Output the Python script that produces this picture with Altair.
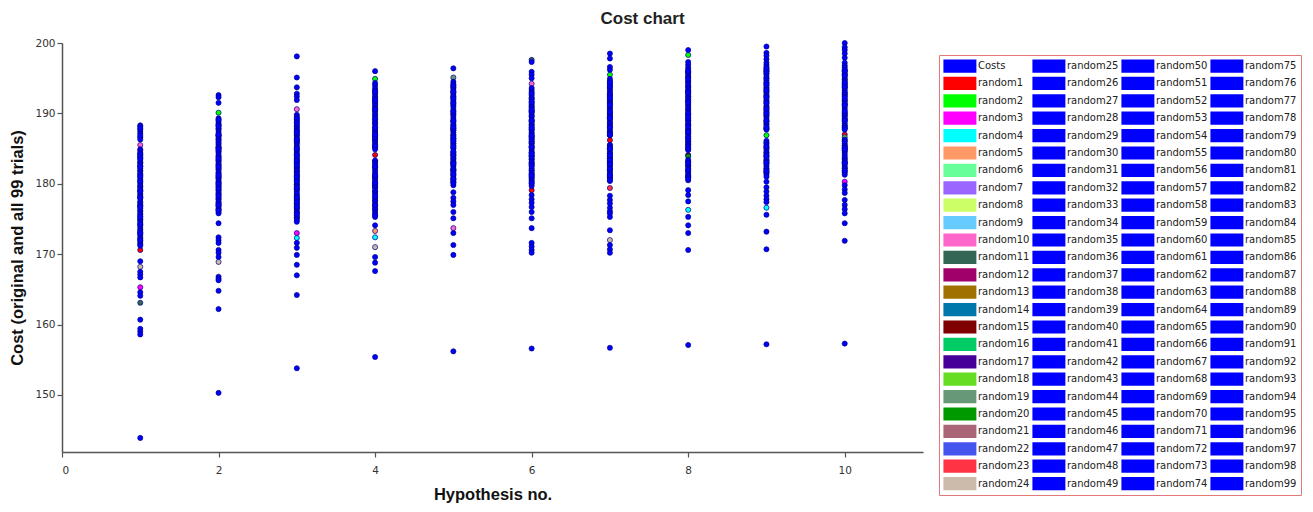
import altair as alt
import pandas as pd

hypotheses = [1, 2, 3, 4, 5, 6, 7, 8, 9, 10]

# original cost for each hypothesis (series "Costs")
original_costs = [143.9, 150.3, 153.8, 155.4, 156.2, 156.6, 156.7, 157.1, 157.2, 157.3]

# 99 random trials per hypothesis, in order random1 .. random99
trials_h1 = [170.6, 181.2, 165.3, 178.4, 183.0, 176.1, 180.3, 174.2, 182.5, 185.5, 163.1, 177.3,
             179.6, 173.1, 184.2, 175.4, 181.9, 172.4, 179.0, 176.8, 183.7, 174.8, 178.1, 168.2,
             169.0, 167.5, 167.1, 166.7, 164.6, 164.1, 160.7, 159.4, 159.0, 158.6,
             188.3, 188.1, 187.7, 187.4, 187.1, 186.6, 186.3, 184.9, 184.7, 184.4, 184.0, 183.8,
             183.4, 183.1, 182.9, 182.6, 182.2, 181.8, 181.5, 181.3, 180.9, 180.6, 180.1, 179.8,
             179.5, 179.2, 178.9, 178.6, 178.2, 177.9, 177.5, 177.1, 176.9, 176.5, 176.2, 175.8,
             175.6, 175.1, 174.9, 174.5, 174.1, 173.8, 173.5, 173.3, 172.9, 172.7, 172.2, 171.9,
             171.6, 171.4, 187.9, 186.8, 184.2, 183.6, 182.4, 181.0, 180.4, 179.0, 178.0, 176.7,
             175.3, 174.3, 173.0, 172.0, 171.2]
trials_h2 = [184.6, 190.1, 180.2, 177.9, 186.3, 182.7, 179.1, 176.4, 187.8, 181.5, 185.2, 178.6,
             183.9, 176.9, 188.4, 180.8, 182.1, 177.3, 185.8, 179.7, 183.3, 181.0, 186.9, 168.9,
             192.6, 192.3, 191.5, 174.4, 172.4, 172.0, 171.6, 170.6, 170.2, 169.6, 166.8, 166.5,
             166.3, 164.8, 162.2,
             189.3, 189.0, 188.7, 188.4, 188.1, 187.8, 187.5, 187.2, 186.9, 186.6, 186.3, 186.0,
             185.6, 185.3, 185.0, 184.7, 184.4, 184.1, 183.8, 183.5, 183.2, 182.9, 182.6, 182.3,
             182.0, 181.7, 181.4, 181.1, 180.8, 180.5, 180.2, 179.9, 179.6, 179.3, 179.0, 178.7,
             178.4, 178.1, 177.8, 177.5, 177.2, 176.9, 176.6, 176.3, 176.0, 175.8, 189.1, 188.2,
             186.8, 185.1, 183.6, 182.4, 181.2, 179.4, 178.3, 177.0, 176.2, 184.9, 187.0, 180.0]
trials_h3 = [183.4, 186.8, 173.0, 172.3, 180.5, 177.2, 188.1, 175.9, 184.7, 190.6, 179.3, 182.2,
             176.5, 185.9, 181.1, 178.4, 187.3, 175.2, 183.0, 179.9, 186.2, 181.8, 177.7, 184.1,
             198.1, 195.1, 193.7, 192.8, 192.4, 191.9, 171.6, 170.9, 169.9, 168.5, 167.0, 164.2,
             189.8, 189.5, 189.1, 188.9, 188.5, 188.2, 187.8, 187.6, 187.1, 186.9, 186.5, 186.1,
             185.8, 185.5, 185.2, 184.9, 184.5, 184.2, 183.8, 183.6, 183.2, 182.9, 182.5, 182.3,
             181.9, 181.6, 181.2, 180.9, 180.6, 180.2, 179.9, 179.6, 179.2, 178.9, 178.6, 178.2,
             177.9, 177.6, 177.2, 176.9, 176.6, 176.2, 175.9, 175.5, 175.2, 174.9, 174.6, 189.3,
             188.7, 187.4, 186.3, 185.0, 184.0, 182.7, 181.4, 180.4, 179.4, 178.0, 176.7, 175.7,
             183.3, 181.0, 177.4]
trials_h4 = [184.1, 194.9, 186.2, 172.4, 173.3, 189.7, 180.2, 191.3, 177.6, 187.5, 182.4, 178.9,
             190.5, 176.3, 185.3, 188.6, 181.1, 179.5, 183.2, 192.2, 177.0, 186.9, 180.8, 171.0,
             196.0, 194.3, 194.0, 174.1, 169.6, 168.8, 167.6,
             193.6, 193.3, 193.0, 192.7, 192.4, 192.0, 191.7, 191.5, 191.1, 190.8, 190.4, 190.1,
             189.8, 189.4, 189.1, 188.8, 188.5, 188.1, 187.8, 187.5, 187.2, 186.8, 186.5, 186.2,
             185.9, 185.6, 185.2, 184.9, 183.3, 183.0, 182.7, 182.3, 182.0, 181.7, 181.4, 181.0,
             180.7, 180.4, 180.0, 179.7, 179.4, 179.0, 178.7, 178.4, 178.0, 177.7, 177.4, 177.0,
             176.7, 176.4, 176.0, 175.7, 175.3, 193.1, 191.9, 190.6, 189.2, 188.0, 186.6, 185.4,
             182.5, 181.2, 179.8, 178.2, 176.9, 175.5, 187.0, 180.1]
trials_h5 = [186.4, 191.2, 182.0, 188.8, 184.5, 180.6, 193.0, 185.7, 181.3, 173.7, 189.9, 183.1,
             187.6, 180.2, 192.3, 185.0, 182.7, 190.7, 195.1, 186.9, 181.8, 188.2, 184.0, 183.6,
             196.4, 178.8, 178.0, 177.5, 177.0, 176.0, 175.1, 173.0, 171.3, 169.9,
             194.5, 194.2, 193.9, 193.6, 193.3, 192.9, 192.6, 192.4, 192.0, 191.7, 191.4, 191.0,
             193.7, 190.4, 190.1, 189.8, 189.5, 189.2, 188.9, 188.5, 188.3, 187.9, 187.6, 187.3,
             187.0, 186.7, 186.3, 186.0, 185.7, 185.4, 185.1, 182.0, 184.4, 184.1, 183.8, 183.5,
             183.2, 182.8, 182.5, 182.2, 181.9, 181.6, 181.2, 180.9, 180.6, 180.3, 179.8, 194.0,
             193.1, 191.5, 190.3, 189.0, 187.8, 186.5, 185.3, 184.2, 183.0, 181.4, 180.1, 192.1,
             188.0, 186.1, 184.6, 182.9, 180.7]
trials_h6 = [179.1, 186.0, 190.3, 183.5, 188.4, 181.9, 192.1, 185.2, 180.5, 194.2, 197.6, 187.1,
             182.8, 189.6, 184.4, 191.2, 180.9, 186.7, 183.0, 188.9, 181.4, 185.8, 190.9, 184.0,
             197.3, 195.9, 195.5, 195.0, 178.4, 177.8, 177.3, 176.7, 176.0, 175.1, 173.7, 171.6,
             171.1, 170.6, 170.2,
             193.6, 193.3, 193.0, 192.6, 192.3, 192.0, 191.7, 191.4, 191.0, 190.7, 190.4, 190.1,
             189.8, 189.5, 189.1, 188.8, 188.5, 188.2, 187.9, 187.6, 187.3, 186.9, 186.6, 186.3,
             186.0, 185.7, 185.4, 185.1, 184.8, 184.5, 184.1, 183.8, 183.5, 183.2, 182.9, 182.6,
             182.2, 181.9, 181.6, 181.3, 181.0, 180.7, 180.3, 180.0, 179.7, 192.8, 191.6, 190.2,
             189.0, 187.7, 186.4, 185.2, 183.9, 182.5, 181.2, 180.1, 188.0, 184.3, 190.5, 186.8]
trials_h7 = [186.2, 195.5, 190.8, 183.6, 188.1, 192.7, 181.9, 185.0, 189.4, 193.5, 182.7, 187.3,
             191.6, 184.3, 180.9, 189.9, 183.0, 192.1, 186.9, 181.3, 188.6, 185.5, 179.4, 172.0,
             198.5, 197.8, 196.6, 196.2, 177.7, 177.2, 176.6, 176.1, 175.8, 175.3, 173.4, 171.3,
             170.7, 170.2, 178.3,
             194.9, 194.6, 194.3, 194.0, 193.7, 193.3, 193.0, 192.7, 192.4, 192.0, 191.7, 191.4,
             191.1, 190.7, 190.4, 190.1, 189.8, 189.4, 189.1, 188.8, 188.5, 188.2, 187.8, 187.5,
             187.2, 186.9, 185.5, 185.2, 184.9, 184.6, 184.3, 183.9, 183.6, 183.3, 183.0, 182.6,
             182.3, 182.0, 181.7, 181.4, 181.0, 180.7, 180.4, 193.9, 192.6, 191.2, 189.6, 188.0,
             184.0, 182.8, 181.2, 190.2, 187.0, 185.0, 183.4, 194.4, 192.2, 189.3, 182.1, 180.5]
trials_h8 = [189.0, 198.3, 186.5, 176.3, 192.4, 183.2, 190.6, 187.7, 194.5, 181.8, 188.4, 193.1,
             185.6, 191.9, 184.1, 189.8, 182.6, 195.2, 187.1, 183.9, 191.2, 186.0, 193.8, 181.1,
             199.0, 197.3, 196.9, 179.1, 178.4, 177.5, 175.3, 174.1, 173.0, 170.6,
             196.5, 196.2, 195.9, 195.6, 195.3, 195.0, 194.6, 194.3, 194.0, 193.7, 193.4, 193.0,
             192.7, 192.4, 192.1, 191.8, 191.5, 191.1, 190.8, 190.5, 190.2, 189.9, 189.5, 189.2,
             188.9, 188.6, 188.3, 187.9, 187.6, 187.3, 187.0, 186.7, 186.3, 186.0, 185.7, 185.4,
             185.1, 184.8, 183.4, 183.1, 182.8, 182.5, 182.2, 181.8, 181.5, 181.2, 180.9, 180.5,
             195.8, 194.9, 193.2, 191.6, 190.0, 188.1, 186.5, 185.2, 182.0, 181.0, 196.0, 192.9,
             189.4, 187.4, 184.9, 183.0, 180.7]
trials_h9 = [190.3, 186.9, 193.6, 176.6, 188.5, 195.0, 183.3, 191.7, 185.1, 189.7, 194.3, 182.1,
             187.8, 192.5, 184.4, 196.1, 181.6, 190.9, 185.8, 193.0, 183.9, 188.9, 195.6, 182.8,
             199.5, 198.6, 198.2, 197.7, 197.2, 196.9, 179.5, 178.9, 178.3, 177.8, 177.4, 175.6,
             173.2, 170.7, 180.3,
             196.6, 196.3, 196.0, 195.7, 195.3, 195.0, 194.7, 194.4, 194.0, 193.7, 193.4, 193.1,
             192.7, 192.4, 192.1, 191.8, 191.4, 191.1, 190.8, 190.5, 190.1, 189.8, 189.5, 189.2,
             188.8, 188.5, 188.2, 187.9, 186.1, 185.8, 185.5, 185.1, 184.8, 184.5, 184.2, 183.8,
             183.5, 183.2, 182.9, 182.5, 182.2, 181.9, 181.6, 181.3, 181.0, 195.9, 194.1, 192.3,
             190.6, 189.0, 187.7, 185.3, 183.0, 181.8, 193.3, 191.5, 188.0, 184.0, 196.4, 190.0]
trials_h10 = [187.0, 192.6, 180.3, 189.2, 194.8, 184.7, 191.3, 186.1, 196.1, 182.9, 190.0, 193.7,
              185.4, 188.3, 195.5, 183.6, 191.8, 186.6, 194.1, 182.2, 189.7, 185.0, 192.9, 183.1,
              200.0, 199.4, 199.0, 198.5, 197.9, 197.2, 179.8, 179.2, 178.7, 177.7, 177.0, 176.4,
              175.8, 174.4, 171.9,
              196.8, 196.5, 196.2, 195.9, 195.6, 195.2, 194.9, 194.6, 194.3, 194.0, 193.6, 193.3,
              193.0, 192.7, 192.4, 192.0, 191.7, 191.4, 191.1, 190.8, 190.5, 190.1, 189.8, 189.5,
              189.2, 188.9, 188.6, 188.2, 187.9, 186.3, 186.0, 185.7, 185.4, 185.0, 184.7, 184.4,
              184.1, 183.8, 183.4, 183.1, 182.8, 182.5, 182.2, 181.9, 181.6, 181.3, 196.0, 194.4,
              192.2, 190.3, 188.0, 185.2, 183.0, 191.2, 193.8, 189.0, 184.9, 181.8, 195.4, 187.7]

all_trials = [trials_h1, trials_h2, trials_h3, trials_h4, trials_h5,
              trials_h6, trials_h7, trials_h8, trials_h9, trials_h10]

series_names = ["Costs"] + [f"random{i}" for i in range(1, 100)]
series_colors = (["#0000FF", "#FF0000", "#00FF00", "#FF00FF", "#00FFFF", "#FF9966", "#66FF99",
                  "#9966FF", "#CCFF66", "#66CCFF", "#FF66CC", "#336655", "#A0006A", "#A07000",
                  "#0077AA", "#800000", "#00CC66", "#440099", "#66DD22", "#669977", "#009900",
                  "#AA6677", "#4455EE", "#FF3344", "#CCBBAA"] + ["#0000FF"] * 75)

rows = []
for h, orig, trials in zip(hypotheses, original_costs, all_trials):
    rows.append({"hyp": h, "cost": orig, "series": "Costs", "order": 0})
    for i, v in enumerate(trials[:99], start=1):
        rows.append({"hyp": h, "cost": v, "series": f"random{i}", "order": i})
df = pd.DataFrame(rows)

chart = alt.Chart(df).mark_circle(size=26, opacity=1, stroke="#00008B", strokeWidth=0.7).encode(
    x=alt.X("hyp:Q", scale=alt.Scale(domain=[0, 11], nice=False),
            axis=alt.Axis(values=[0, 2, 4, 6, 8, 10], title="Hypothesis no.", grid=False,
                          tickSize=5, labelPadding=8, titlePadding=11)),
    y=alt.Y("cost:Q", scale=alt.Scale(domain=[141.9, 200], nice=False, zero=False),
            axis=alt.Axis(values=[150, 160, 170, 180, 190, 200],
                          title="Cost (original and all 99 trials)", grid=False,
                          tickSize=5, labelPadding=2, titlePadding=9)),
    color=alt.Color("series:N", scale=alt.Scale(domain=series_names, range=series_colors),
                    legend=alt.Legend(orient="none", legendX=877, legendY=12, columns=4,
                                      title=None, symbolType="M-2.5,-1H2.5V1H-2.5Z",
                                      symbolSize=174, symbolOffset=9.9,
                                      symbolStrokeWidth=0, symbolOpacity=1,
                                      symbolLimit=200, labelFont="DejaVu Sans",
                                      labelFontSize=10, labelColor="#222222", labelOffset=11,
                                      labelLimit=120, rowPadding=3.4, columnPadding=2,
                                      strokeColor="#E07A7A", fillColor="white", padding=4)),
    order=alt.Order("order:Q"),
).properties(
    width=861, height=409,
    title=alt.Title("Cost chart", anchor="middle", dx=150, offset=10,
                    font="Liberation Sans", fontSize=17, fontWeight="bold", color="#222222"),
    padding={"left": 1, "top": 2, "right": 0, "bottom": 0},
).configure_view(strokeWidth=0).configure_axis(
    domainColor="#555555", domainWidth=1.5, tickColor="#555555", tickWidth=1.2,
    labelFont="DejaVu Sans", labelFontSize=10.5, labelColor="#333333",
    titleFont="Liberation Sans", titleFontSize=16.5, titleFontWeight="bold", titleColor="#111111",
)

chart.save("out.html", embed_options={"renderer": "svg", "actions": False})
